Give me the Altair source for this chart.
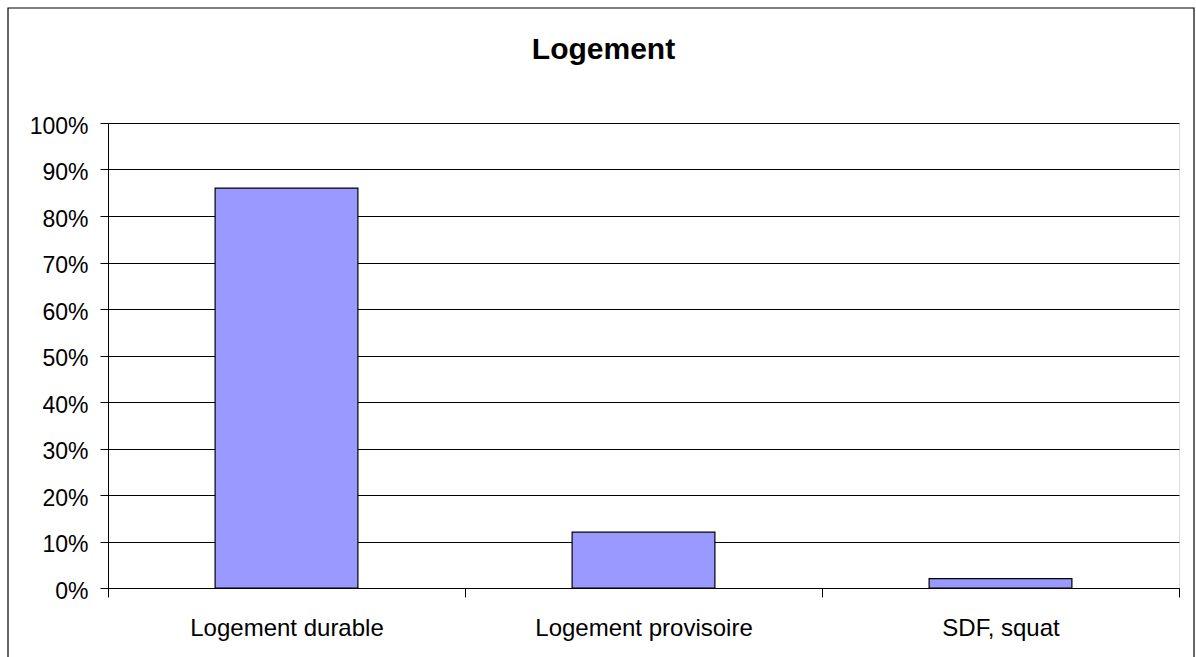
import altair as alt
import pandas as pd

categories = ["Logement durable", "Logement provisoire", "SDF, squat"]
shares = [0.86, 0.12, 0.02]
y_tick_values = [0.0, 0.1, 0.2, 0.3, 0.4, 0.5, 0.6, 0.7, 0.8, 0.9, 1.0]

df = pd.DataFrame({"categorie": categories, "part": shares})
frame_df = pd.DataFrame({"k": [0]})

FONT = "Liberation Sans"
W, H = 1071, 465

frame = alt.Chart(frame_df).mark_rect(
    fill="white", fillOpacity=0, stroke="black", strokeWidth=1.2, clip=False
).encode(
    x=alt.value(-100), x2=alt.value(1086), y=alt.value(-115), y2=alt.value(700)
)

bars = alt.Chart(df).mark_bar(
    fill="#9999FF", stroke="black", strokeWidth=1.2,
    width=alt.RelativeBandSize(0.4)
).encode(
    x=alt.X(
        "categorie:N", sort=categories, title=None,
        scale=alt.Scale(paddingInner=0, paddingOuter=0),
        axis=alt.Axis(
            tickBand="extent", labelAngle=0, labelFont=FONT, labelFontSize=24,
            labelColor="black", labelBaseline="alphabetic", labelPadding=38,
            labelLimit=0,
            tickSize=9, tickColor="black", domainColor="black", grid=False,
        ),
    ),
    y=alt.Y(
        "part:Q", title=None,
        scale=alt.Scale(domain=[0, 1], nice=False),
        axis=alt.Axis(
            format=".0%", values=y_tick_values, labelFont=FONT, labelFontSize=23,
            labelColor="black", labelBaseline="alphabetic", labelOffset=10,
            labelPadding=12, tickSize=8, tickColor="black", domainColor="black",
            grid=True, gridColor="black", gridWidth=1,
        ),
    ),
)

chart = alt.layer(frame, bars).properties(
    width=W, height=H,
    title=alt.TitleParams(
        "Logement", font=FONT, fontSize=30, fontWeight="bold", color="black",
        anchor="middle", baseline="alphabetic", offset=-82, dx=-40,
    ),
    autosize=alt.AutoSizeParams(type="none"),
    padding={"left": 108, "top": 123, "right": 17, "bottom": 69},
).configure_view(stroke="#808080", strokeWidth=1).configure(background="white")

chart.save("out.html", embed_options={"renderer": "svg", "actions": False})
